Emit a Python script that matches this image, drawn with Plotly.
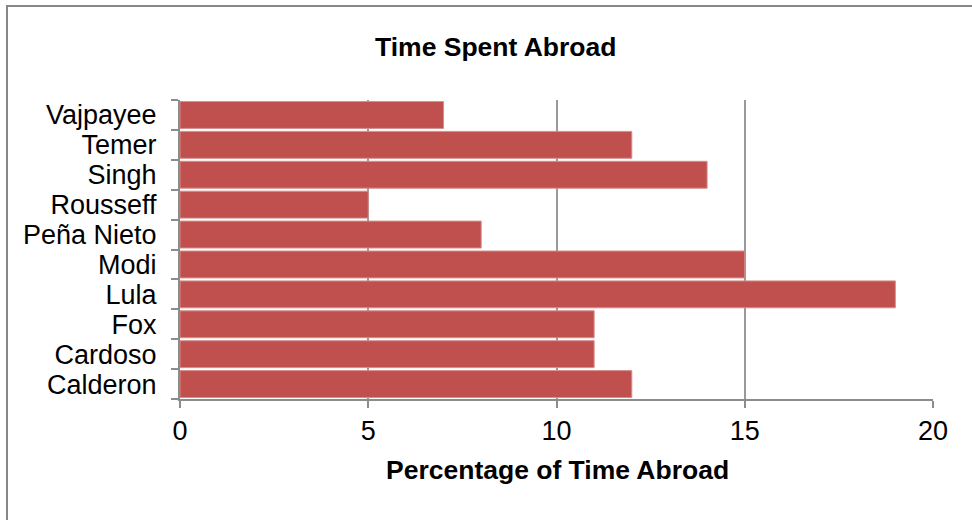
import plotly.graph_objects as go

leaders = ["Calderon", "Cardoso", "Fox", "Lula", "Modi", "Peña Nieto",
           "Rousseff", "Singh", "Temer", "Vajpayee"]
pct_abroad = [12, 11, 11, 19, 15, 8, 5, 14, 12, 7]
x_ticks = [0, 5, 10, 15, 20]

W, H = 972, 520
L, R, T, B = 180, 39, 100, 121
pw, ph = W - L - R, H - T - B

def px(x):
    return (x - L) / pw

def py(y):
    return (H - B - y) / ph

fig = go.Figure(go.Bar(
    x=pct_abroad, y=leaders, orientation="h",
    marker=dict(color="#C0504D", line=dict(color="#D58F8D", width=1)),
))

font = "Liberation Sans, Arial, sans-serif"
fig.update_layout(
    width=W, height=H,
    margin=dict(l=L, r=R, t=T, b=B),
    paper_bgcolor="white", plot_bgcolor="white",
    bargap=0.1,
    showlegend=False,
    font=dict(family=font, color="black", size=26),
    xaxis=dict(
        range=[0, 20], tickmode="array", tickvals=x_ticks,
        ticks="outside", ticklen=7,
        tickcolor="#8C8C8C", tickwidth=2,
        showgrid=True, gridcolor="#999999", gridwidth=1.5,
        showline=True, linecolor="#8C8C8C", linewidth=2,
        zeroline=False, tickfont=dict(size=27),
    ),
    yaxis=dict(
        type="category", categoryorder="array", categoryarray=leaders,
        tickmode="array", tickvals=leaders, ticktext=leaders,
        ticks="outside", tickson="boundaries", ticklen=7,
        tickcolor="#8C8C8C", tickwidth=2,
        showgrid=False, showline=True, linecolor="#8C8C8C", linewidth=2,
        tickfont=dict(size=27), ticklabelstandoff=16,
    ),
    annotations=[
        dict(text="<b>Time Spent Abroad</b>", x=px(495), y=py(47),
             xref="paper", yref="paper", showarrow=False,
             font=dict(size=26.5), xanchor="center", yanchor="middle"),
        dict(text="<b>Percentage of Time Abroad</b>", x=px(557), y=py(470),
             xref="paper", yref="paper", showarrow=False,
             font=dict(size=26.5), xanchor="center", yanchor="middle"),
    ],
    shapes=[dict(
        type="rect", xref="paper", yref="paper",
        x0=px(7), x1=px(985), y0=py(535), y1=py(6),
        line=dict(color="#878787", width=2), fillcolor="rgba(0,0,0,0)",
        layer="above",
    )],
)

fig.write_html("out.html")
